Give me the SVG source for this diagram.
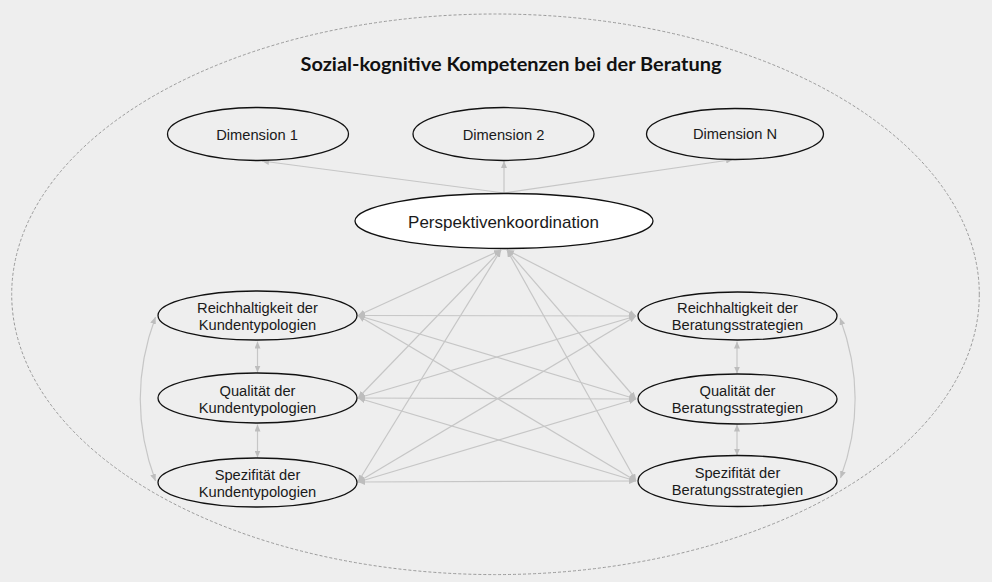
<svg xmlns="http://www.w3.org/2000/svg" width="992" height="582" viewBox="0 0 992 582">
  <defs>
    <marker id="head" viewBox="0 0 7 6" refX="7" refY="3" markerWidth="7" markerHeight="6" markerUnits="userSpaceOnUse" orient="auto-start-reverse">
      <path d="M0,0 L7,3 L0,6 z" fill="#bdbdbd"/>
    </marker>
    <style>
      .node { fill: #eeeeee; stroke: #111111; stroke-width: 1.3; }
      .main { fill: #ffffff; stroke: #111111; stroke-width: 1.3; }
      .lbl { font-family: "Liberation Sans", Arial, sans-serif; font-size: 14.7px; fill: #1a1a1a; text-anchor: middle; }
      .big { font-size: 17px; }
      .title { font-family: Lato, "Open Sans", sans-serif; font-weight: bold; font-size: 19px; fill: #111111; text-anchor: middle; }
      .edge { fill: none; stroke: #c6c6c6; stroke-width: 1.2; }
      .one { marker-end: url(#head); }
      .two { marker-start: url(#head); marker-end: url(#head); }
    </style>
  </defs>

  <rect x="0" y="0" width="992" height="582" fill="#eeeeee"/>

  <!-- outer dashed boundary -->
  <ellipse cx="495.5" cy="294.3" rx="483.8" ry="280.3" fill="none" stroke="#9a9a9a" stroke-width="1" stroke-dasharray="3,2"/>
  <text class="title" x="511" y="71" textLength="421" lengthAdjust="spacingAndGlyphs">Sozial-kognitive Kompetenzen bei der Beratung</text>

  <!-- connectors -->
  <g id="connectors">
    <path class="edge one" d="M504,193 L262,161"/>
    <path class="edge one" d="M504,193 L504,161"/>
    <path class="edge one" d="M504,193 L733,159.5"/>

    <path class="edge two" d="M501,250 L358,315.5"/>
    <path class="edge two" d="M501,250 L358,398"/>
    <path class="edge two" d="M501,250 L358,482"/>
    <path class="edge two" d="M507,250 L636,316"/>
    <path class="edge two" d="M507,250 L636,399"/>
    <path class="edge two" d="M507,250 L636,481"/>

    <path class="edge two" d="M358,315.5 L636,316"/>
    <path class="edge two" d="M358,315.5 L636,399"/>
    <path class="edge two" d="M358,315.5 L636,481"/>
    <path class="edge two" d="M358,398 L636,316"/>
    <path class="edge two" d="M358,398 L636,399"/>
    <path class="edge two" d="M358,398 L636,481"/>
    <path class="edge two" d="M358,482 L636,316"/>
    <path class="edge two" d="M358,482 L636,399"/>
    <path class="edge two" d="M358,482 L636,481"/>

    <path class="edge two" d="M257.5,341.5 L257.5,372.5"/>
    <path class="edge two" d="M257.5,424.5 L257.5,457.5"/>
    <path class="edge two" d="M737,341.5 L737,373.5"/>
    <path class="edge two" d="M737,424.5 L737,455.5"/>

    <path class="edge two" d="M155.5,317 Q125,399 155.5,481"/>
    <path class="edge two" d="M840,318 Q870,399 840.5,478"/>
  </g>

  <g id="dim1">
    <ellipse class="node" cx="258" cy="134" rx="90.5" ry="26.5"/>
    <text class="lbl" x="257" y="140">Dimension 1</text>
  </g>
  <g id="dim2">
    <ellipse class="node" cx="503.5" cy="134" rx="90.5" ry="26.5"/>
    <text class="lbl" x="503.5" y="140">Dimension 2</text>
  </g>
  <g id="dimN">
    <ellipse class="node" cx="735" cy="134" rx="88.5" ry="25.5"/>
    <text class="lbl" x="735" y="139">Dimension N</text>
  </g>

  <g id="perspektiven">
    <ellipse class="main" cx="504" cy="221" rx="149" ry="27.5"/>
    <text class="lbl big" x="503.5" y="228">Perspektivenkoordination</text>
  </g>

  <g id="kunden-reich">
    <ellipse class="node" cx="257.5" cy="315.5" rx="99.5" ry="24.5"/>
    <text class="lbl" x="257.5" y="313">Reichhaltigkeit der</text>
    <text class="lbl" x="257.5" y="330">Kundentypologien</text>
  </g>
  <g id="kunden-qual">
    <ellipse class="node" cx="257.5" cy="398" rx="99.5" ry="25"/>
    <text class="lbl" x="257.5" y="395.5">Qualität der</text>
    <text class="lbl" x="257.5" y="412.5">Kundentypologien</text>
  </g>
  <g id="kunden-spez">
    <ellipse class="node" cx="257.5" cy="482.5" rx="99.5" ry="24.5"/>
    <text class="lbl" x="257.5" y="480">Spezifität der</text>
    <text class="lbl" x="257.5" y="497">Kundentypologien</text>
  </g>

  <g id="beratung-reich">
    <ellipse class="node" cx="737.5" cy="316" rx="99.5" ry="24"/>
    <text class="lbl" x="737.5" y="313">Reichhaltigkeit der</text>
    <text class="lbl" x="737.5" y="330">Beratungsstrategien</text>
  </g>
  <g id="beratung-qual">
    <ellipse class="node" cx="737.5" cy="399" rx="99.5" ry="25"/>
    <text class="lbl" x="737.5" y="396">Qualität der</text>
    <text class="lbl" x="737.5" y="413">Beratungsstrategien</text>
  </g>
  <g id="beratung-spez">
    <ellipse class="node" cx="737.5" cy="481" rx="99.5" ry="25.5"/>
    <text class="lbl" x="737.5" y="478">Spezifität der</text>
    <text class="lbl" x="737.5" y="495">Beratungsstrategien</text>
  </g>
</svg>
